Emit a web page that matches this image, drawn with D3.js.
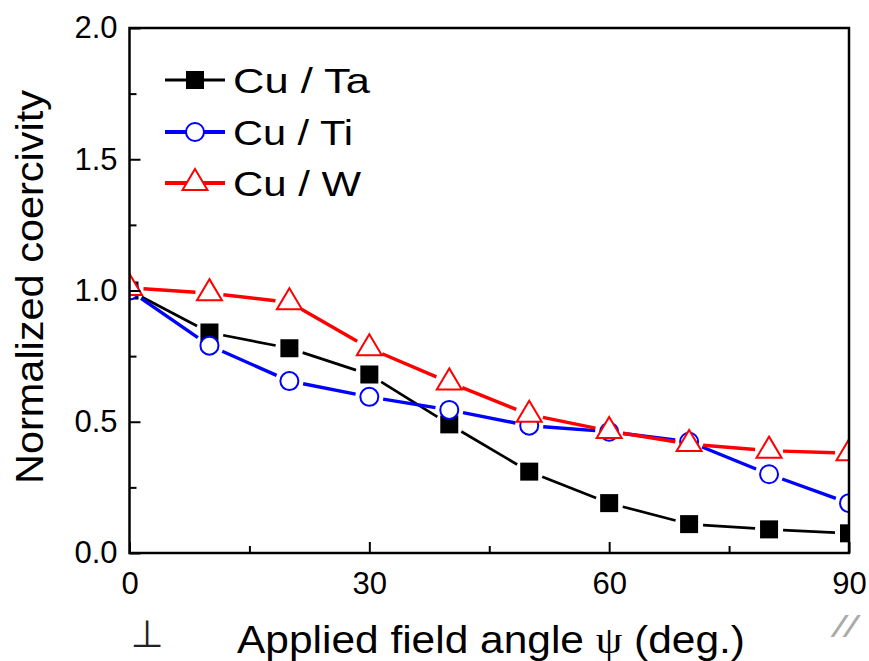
<!DOCTYPE html>
<html>
<head>
<meta charset="utf-8">
<script src="https://cdn.jsdelivr.net/npm/d3@7"></script>
<style>
  html, body { margin: 0; padding: 0; background: #fff; }
  svg { display: block; }
  text { font-family: "Liberation Sans", Arial, sans-serif; }
</style>
</head>
<body>
<svg id="chart" width="869" height="661"></svg>
<script>
// Field angle (deg.)
const angles = [0, 10, 20, 30, 40, 50, 60, 70, 80, 90];

// Normalized coercivity per stack
const cuTa = [1.00, 0.84, 0.78, 0.68, 0.49, 0.31, 0.19, 0.11, 0.09, 0.075];
const cuTi = [1.00, 0.79, 0.655, 0.595, 0.545, 0.485, 0.462, 0.424, 0.30, 0.19];
const cuW  = [1.01, 0.99, 0.955, 0.78, 0.65, 0.527, 0.465, 0.415, 0.39, 0.38];

const seriesNames = ["Cu / Ta", "Cu / Ti", "Cu / W"];

const xMajorTicks = [0, 30, 60, 90];
const xMinorTicks = [15, 45, 75];
const yMajorTicks = [0, 0.5, 1.0, 1.5, 2.0];
const yMinorTicks = [0.25, 0.75, 1.25, 1.75];

const svg = d3.select("#chart");
const L = 129.5, R = 849, T = 28, B = 553;

const x = d3.scaleLinear().domain([0, 90]).range([L, R]);
const y = d3.scaleLinear().domain([0, 2]).range([B, T]);

const styles = [
  { name: seriesNames[0], values: cuTa, color: "#000000", width: 2.7, marker: "square" },
  { name: seriesNames[1], values: cuTi, color: "#0000ff", width: 3.4, marker: "circle" },
  { name: seriesNames[2], values: cuW,  color: "#ff0000", width: 3.4, marker: "triangle" }
];

svg.append("defs").append("clipPath").attr("id", "plotClip")
  .append("rect").attr("x", L).attr("y", T).attr("width", R - L).attr("height", B - T);

function drawMarker(g, kind, color, cx, cy) {
  if (kind === "square") {
    g.append("rect").attr("x", cx - 9).attr("y", cy - 9)
      .attr("width", 18).attr("height", 18).attr("fill", color);
  } else if (kind === "circle") {
    g.append("circle").attr("cx", cx).attr("cy", cy).attr("r", 9)
      .attr("fill", "#fff").attr("stroke", color).attr("stroke-width", 2);
  } else {
    const p = `M${cx},${cy - 14} L${cx + 12.5},${cy + 7} L${cx - 12.5},${cy + 7} Z`;
    g.append("path").attr("d", p).attr("fill", "#fff")
      .attr("stroke", color).attr("stroke-width", 2);
  }
}

const plot = svg.append("g").attr("clip-path", "url(#plotClip)");
const gap = 14;

styles.forEach(s => {
  const g = plot.append("g");
  const pts = angles.map((a, i) => [x(a), y(s.values[i])]);
  // connecting segments stop short of each marker
  for (let i = 0; i < pts.length - 1; i++) {
    const [x0, y0] = pts[i], [x1, y1] = pts[i + 1];
    const len = Math.hypot(x1 - x0, y1 - y0);
    if (len <= 2 * gap) continue;
    const ux = (x1 - x0) / len, uy = (y1 - y0) / len;
    g.append("line")
      .attr("x1", x0 + ux * gap).attr("y1", y0 + uy * gap)
      .attr("x2", x1 - ux * gap).attr("y2", y1 - uy * gap)
      .attr("stroke", s.color).attr("stroke-width", s.width);
  }
  pts.forEach(([cx, cy]) => drawMarker(g, s.marker, s.color, cx, cy));
});

// Axes: ticks point inward
const axisStyle = g => {
  g.select(".domain").remove();
  g.selectAll(".tick line").attr("stroke", "#000").attr("stroke-width", 2);
  g.selectAll(".tick text").attr("fill", "#000")
    .style("font-size", "31px").style("font-family", "'Liberation Sans', Arial, sans-serif");
};

svg.append("g").attr("transform", `translate(0,${B})`)
  .call(d3.axisBottom(x).tickValues(xMajorTicks).tickFormat(d3.format("d"))
    .tickSize(-11).tickPadding(19))
  .call(axisStyle);
svg.append("g").attr("transform", `translate(0,${B})`)
  .call(d3.axisBottom(x).tickValues(xMinorTicks).tickFormat("").tickSize(-7))
  .call(axisStyle);
svg.append("g").attr("transform", `translate(${L},0)`)
  .call(d3.axisLeft(y).tickValues(yMajorTicks).tickFormat(d3.format(".1f"))
    .tickSize(-11).tickPadding(12))
  .call(axisStyle);
svg.append("g").attr("transform", `translate(${L},0)`)
  .call(d3.axisLeft(y).tickValues(yMinorTicks).tickFormat("").tickSize(-7))
  .call(axisStyle);

// Frame
svg.append("rect").attr("x", L).attr("y", T).attr("width", R - L).attr("height", B - T)
  .attr("fill", "none").attr("stroke", "#000").attr("stroke-width", 2.5);

// Legend
const legend = svg.append("g");
const legendRows = [80, 132, 183];
const legendLengths = [137, 120, 128];
styles.forEach((s, i) => {
  const ly = legendRows[i];
  legend.append("line").attr("x1", 165).attr("x2", 225).attr("y1", ly).attr("y2", ly)
    .attr("stroke", s.color).attr("stroke-width", s.width + 0.4);
  drawMarker(legend, s.marker, s.color, 195, ly);
  legend.append("text").attr("x", 233).attr("y", ly + 12.5)
    .attr("textLength", legendLengths[i]).attr("lengthAdjust", "spacingAndGlyphs")
    .style("font-size", "35px").text(s.name);
});

// Axis titles
svg.append("text")
  .attr("transform", "translate(43,287) rotate(-90)")
  .attr("text-anchor", "middle")
  .attr("textLength", 394).attr("lengthAdjust", "spacingAndGlyphs")
  .style("font-size", "39px")
  .text("Normalized coercivity");

const xt = svg.append("text")
  .attr("x", 237).attr("y", 653)
  .attr("textLength", 508).attr("lengthAdjust", "spacingAndGlyphs")
  .style("font-size", "38px");
xt.append("tspan").text("Applied field angle ");
xt.append("tspan").style("font-family", "'Liberation Serif', 'DejaVu Serif', serif").text("ψ");
xt.append("tspan").text(" (deg.)");

// Orientation marks at the axis ends
svg.append("text").attr("x", 147).attr("y", 647).attr("text-anchor", "middle")
  .style("font-family", "'DejaVu Sans', sans-serif").style("font-size", "38px")
  .attr("fill", "#222").text("⊥");
svg.append("text").attr("x", 845).attr("y", 637).attr("text-anchor", "middle")
  .attr("textLength", 24).attr("lengthAdjust", "spacingAndGlyphs")
  .style("font-size", "30px").style("font-style", "italic")
  .attr("fill", "#aaa").text("//");
</script>
</body>
</html>
